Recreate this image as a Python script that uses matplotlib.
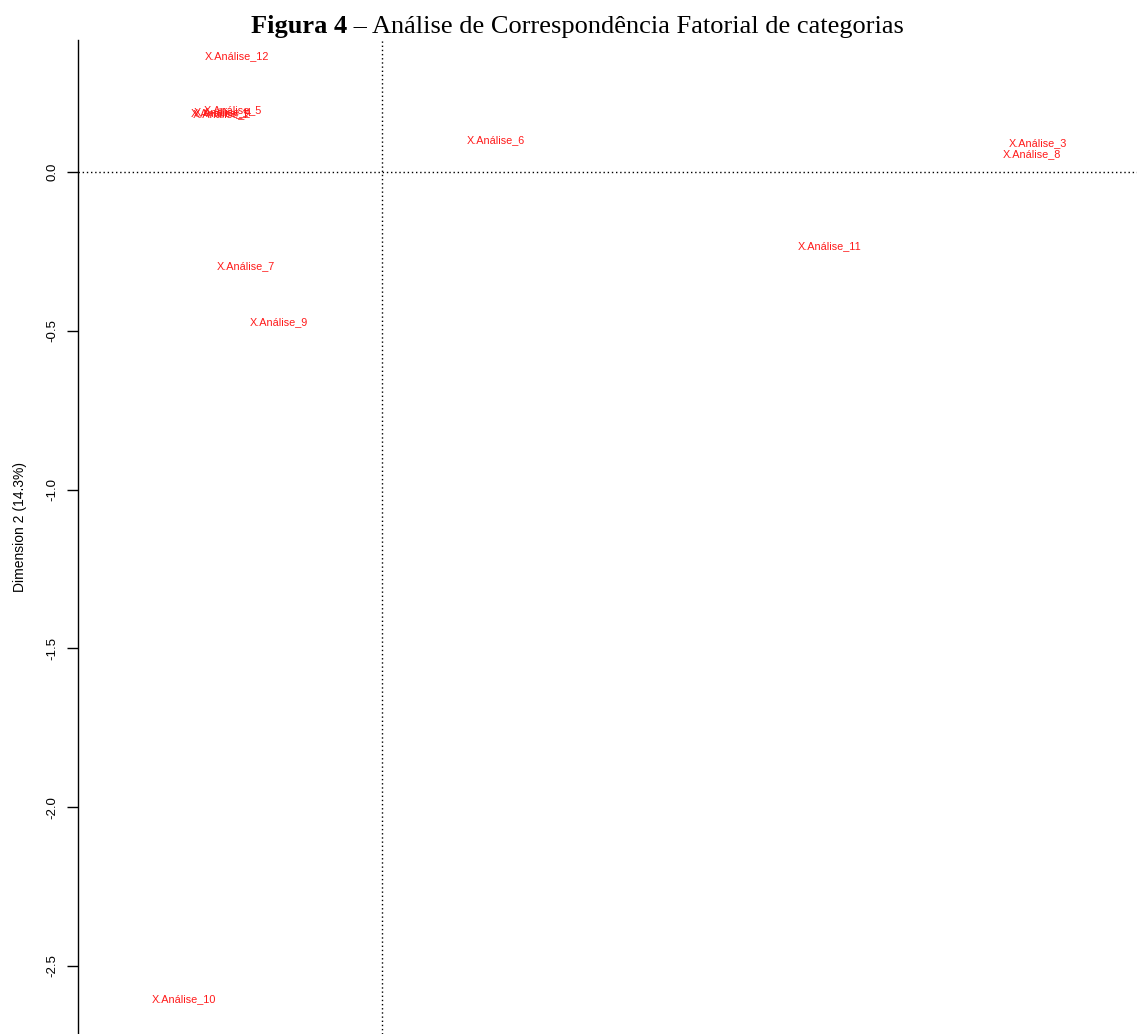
import numpy as np
import matplotlib
matplotlib.use('Agg')
import matplotlib.pyplot as plt

# Coordenadas das categorias nas dimensões 1 e 2
rotulos = ['X.Análise_1', 'X.Análise_2', 'X.Análise_3', 'X.Análise_4',
           'X.Análise_5', 'X.Análise_6', 'X.Análise_7', 'X.Análise_8',
           'X.Análise_9', 'X.Análise_10', 'X.Análise_11', 'X.Análise_12']
dim1 = [-0.510, -0.505, 2.066, -0.500, -0.469, 0.359,
        -0.428, 2.047, -0.324, -0.623, 1.411, -0.457]
dim2 = [0.186, 0.184, 0.091, 0.188, 0.195, 0.101,
        -0.296, 0.057, -0.472, -2.604, -0.233, 0.365]
yticks = [0.0, -0.5, -1.0, -1.5, -2.0, -2.5]

fig = plt.figure(figsize=(11.37, 10.34), dpi=100)
ax = fig.add_axes([78 / 1137, 0, 1 - 78 / 1137, 1 - 40 / 1034])

for lab, x, y in zip(rotulos, dim1, dim2):
    ax.text(x, y, lab, color='#ff1a1a', fontsize=7.8, family='Liberation Sans',
            ha='center', va='center')

# linhas de referência nos eixos
ax.axhline(0, color='black', linestyle=(0, (1, 2)), linewidth=1)
ax.axvline(0, color='black', linestyle=(0, (1, 2)), linewidth=1)

ax.set_xlim(-0.957, 2.377)
ax.set_ylim(-2.714, 0.416)
ax.set_aspect('equal')

for s in ['top', 'right', 'bottom']:
    ax.spines[s].set_visible(False)
ax.spines['left'].set_linewidth(1)
ax.set_xticks([])
ax.set_yticks(yticks)
ax.set_yticklabels([f'{v:.1f}' for v in yticks], rotation=90, va='center',
                   family='Liberation Sans', fontsize=9.5)
ax.tick_params(axis='y', length=8, width=1, pad=6)
ax.set_ylabel('Dimension 2 (14.3%)', family='Liberation Sans', fontsize=10,
              labelpad=14)
ax.yaxis.set_label_coords(-0.048, 0.510)

# título: parte em negrito + restante
fig.text(0.305, 0.974, 'Figura 4', ha='right', va='center',
         fontsize=19, fontweight='bold', family='Liberation Serif')
fig.text(0.305, 0.974, ' – Análise de Correspondência Fatorial de categorias',
         ha='left', va='center', fontsize=19, family='Liberation Serif')

fig.savefig('out.png', dpi=100)
